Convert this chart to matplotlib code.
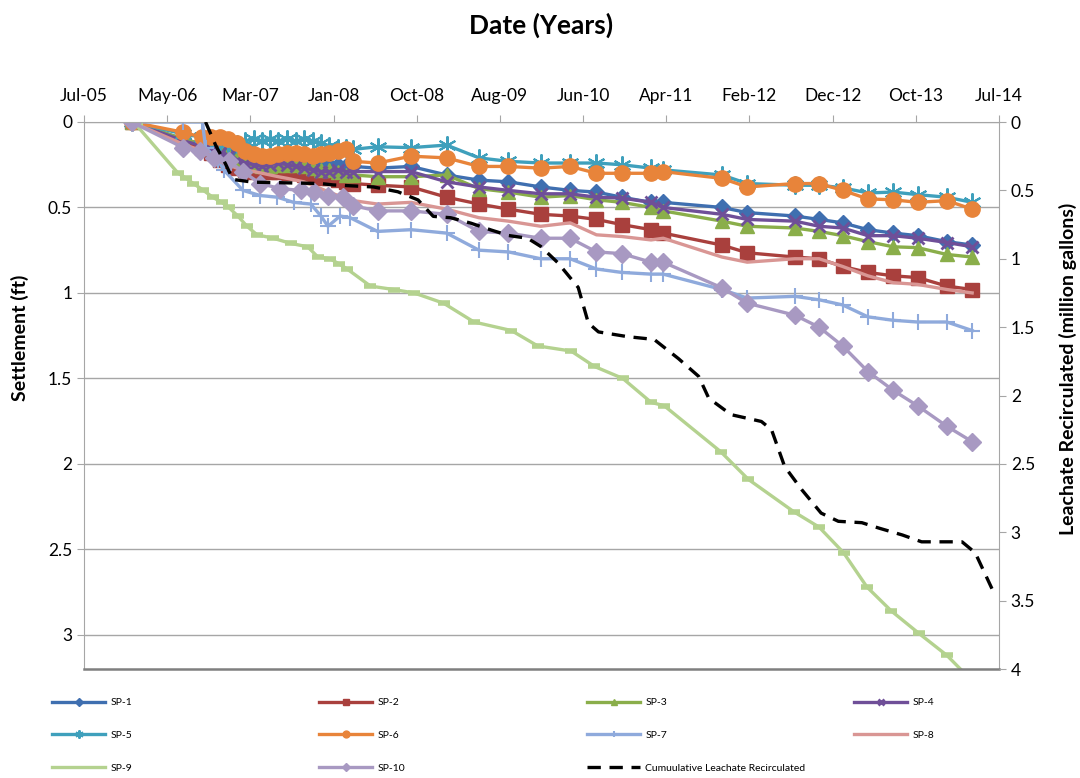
import matplotlib
matplotlib.use("Agg")
import matplotlib.pyplot as plt
from matplotlib.lines import Line2D
import numpy as np
import pandas as pd

plt.rcParams['font.family'] = ['Lato', 'DejaVu Sans']

# survey dates (decimal years) shared by most settlement plates
early_dates = [2006.01, 2006.52, 2006.71, 2006.79, 2006.88, 2006.96, 2007.05, 2007.13,
               2007.22, 2007.30, 2007.38, 2007.46, 2007.55, 2007.63, 2007.71, 2007.80,
               2007.88, 2007.96, 2008.05, 2008.13, 2008.20]
late_dates = [2008.44, 2008.77, 2009.12, 2009.44, 2009.73, 2010.05, 2010.34, 2010.60,
              2010.85, 2011.14, 2011.26, 2011.84, 2012.09, 2012.56, 2012.80, 2013.03,
              2013.28, 2013.53, 2013.77, 2014.06, 2014.31]

# settlement (ft)
sp1 = [0, 0.10, 0.13, 0.15, 0.17, 0.18, 0.20, 0.22, 0.23, 0.24, 0.24, 0.25, 0.25, 0.25,
       0.25, 0.26, 0.26, 0.25, 0.25, 0.26, 0.26,
       0.27, 0.26, 0.31, 0.34, 0.35, 0.38, 0.40, 0.41, 0.44, 0.47, 0.47, 0.50, 0.53, 0.55,
       0.57, 0.59, 0.63, 0.65, 0.665, 0.70, 0.72]
sp2 = [0, 0.12, 0.15, 0.18, 0.22, 0.25, 0.27, 0.28, 0.29, 0.29, 0.29, 0.29, 0.30, 0.30,
       0.31, 0.32, 0.33, 0.33, 0.34, 0.35, 0.36,
       0.37, 0.38, 0.44, 0.48, 0.51, 0.54, 0.55, 0.57, 0.60, 0.63, 0.65, 0.72, 0.765, 0.79,
       0.80, 0.845, 0.88, 0.90, 0.91, 0.96, 0.98]
sp3 = [0, 0.10, 0.13, 0.15, 0.17, 0.19, 0.21, 0.23, 0.25, 0.26, 0.26, 0.25, 0.25, 0.25,
       0.26, 0.27, 0.28, 0.28, 0.29, 0.31, 0.31,
       0.32, 0.32, 0.31, 0.39, 0.41, 0.44, 0.43, 0.455, 0.47, 0.50, 0.52, 0.58, 0.61, 0.62,
       0.64, 0.665, 0.70, 0.73, 0.735, 0.775, 0.79]
sp4 = [0, 0.11, 0.14, 0.16, 0.18, 0.20, 0.22, 0.24, 0.25, 0.26, 0.25, 0.24, 0.25, 0.26,
       0.27, 0.28, 0.29, 0.29, 0.28, 0.29, 0.29,
       0.29, 0.29, 0.35, 0.38, 0.40, 0.42, 0.42, 0.44, 0.445, 0.47, 0.50, 0.54, 0.57, 0.58,
       0.61, 0.62, 0.665, 0.665, 0.68, 0.705, 0.73]
sp5 = [0, 0.07, 0.09, 0.10, 0.11, 0.12, 0.13, 0.11, 0.10, 0.11, 0.10, 0.11, 0.10, 0.11,
       0.10, 0.11, 0.12, 0.14, 0.15, 0.15, 0.16,
       0.145, 0.15, 0.135, 0.21, 0.23, 0.24, 0.24, 0.24, 0.25, 0.27, 0.28, 0.31, 0.36, 0.37,
       0.37, 0.385, 0.415, 0.41, 0.425, 0.44, 0.47]
sp6 = [0, 0.06, 0.09, 0.09, 0.09, 0.10, 0.12, 0.17, 0.19, 0.20, 0.20, 0.19, 0.18, 0.18,
       0.19, 0.20, 0.19, 0.18, 0.17, 0.16, 0.23,
       0.24, 0.20, 0.21, 0.26, 0.26, 0.27, 0.26, 0.30, 0.30, 0.30, 0.29, 0.33, 0.38, 0.36,
       0.36, 0.40, 0.45, 0.455, 0.47, 0.46, 0.51]
sp8 = [0, 0.13, 0.17, 0.20, 0.23, 0.25, 0.27, 0.28, 0.29, 0.30, 0.31, 0.32, 0.33, 0.34,
       0.35, 0.37, 0.39, 0.41, 0.43, 0.45, 0.46,
       0.48, 0.47, 0.51, 0.56, 0.58, 0.61, 0.59, 0.66, 0.67, 0.69, 0.68, 0.79, 0.82, 0.80,
       0.80, 0.845, 0.90, 0.94, 0.95, 0.98, 1.00]

sp7_dates = [2006.01, 2006.52, 2006.71, 2006.74, 2006.86, 2006.92, 2007.11, 2007.28,
             2007.45, 2007.61, 2007.78, 2007.88, 2007.95, 2008.07, 2008.17] + late_dates
sp7 = [0, 0, 0, 0.15, 0.22, 0.28, 0.40, 0.43, 0.44, 0.47, 0.48, 0.55, 0.61, 0.55, 0.56,
       0.64, 0.63, 0.65, 0.75, 0.76, 0.80, 0.80, 0.86, 0.88, 0.89, 0.89, 0.98, 1.03, 1.02,
       1.04, 1.07, 1.14, 1.16, 1.17, 1.17, 1.22]

sp9_dates = [2006.01, 2006.06, 2006.47, 2006.55, 2006.62, 2006.72, 2006.81, 2006.90,
             2006.97, 2007.06, 2007.15, 2007.25, 2007.41, 2007.58, 2007.75, 2007.85,
             2007.97, 2008.06, 2008.14, 2008.37, 2008.60, 2008.80, 2009.09, 2009.39,
             2009.76, 2010.02, 2010.35, 2010.58, 2010.86, 2011.14, 2011.27, 2011.83,
             2012.10, 2012.55, 2012.80, 2013.04, 2013.27, 2013.51, 2013.78, 2014.06, 2014.31]
sp9 = [0, 0.02, 0.30, 0.33, 0.36, 0.40, 0.44, 0.47, 0.50, 0.55, 0.61, 0.66, 0.68, 0.71,
       0.73, 0.79, 0.80, 0.83, 0.86, 0.96, 0.98, 1.00, 1.06, 1.17, 1.22, 1.31, 1.34, 1.43,
       1.50, 1.64, 1.66, 1.93, 2.09, 2.28, 2.37, 2.52, 2.72, 2.86, 2.99, 3.12, 3.27]

sp10_dates = [2006.01, 2006.52, 2006.69, 2006.82, 2006.97, 2007.11, 2007.28, 2007.48,
              2007.68, 2007.81, 2007.95, 2008.10, 2008.20] + late_dates
sp10 = [0, 0.15, 0.17, 0.21, 0.23, 0.29, 0.36, 0.39, 0.40, 0.41, 0.43, 0.44, 0.49,
        0.52, 0.52, 0.54, 0.64, 0.65, 0.68, 0.68, 0.76, 0.77, 0.82, 0.82, 0.97, 1.06, 1.13,
        1.20, 1.31, 1.46, 1.57, 1.66, 1.78, 1.87]

# cumulative leachate recirculated (million gallons)
leach_dates = [2006.74, 2006.84, 2006.94, 2007.01, 2007.21, 2007.88, 2008.00, 2008.40,
               2008.64, 2008.84, 2008.99, 2009.16, 2009.36, 2009.56, 2009.73, 2009.92,
               2010.05, 2010.22, 2010.42, 2010.52, 2010.62, 2010.91, 2011.17, 2011.41,
               2011.61, 2011.71, 2011.93, 2012.23, 2012.33, 2012.46, 2012.63, 2012.82,
               2012.99, 2013.22, 2013.39, 2013.62, 2013.81, 2014.21, 2014.34, 2014.51]
leach = [0, 0.17, 0.31, 0.42, 0.44, 0.45, 0.46, 0.475, 0.51, 0.57, 0.69, 0.70, 0.74, 0.79,
         0.83, 0.85, 0.91, 1.03, 1.21, 1.47, 1.535, 1.57, 1.59, 1.73, 1.86, 2.02, 2.14,
         2.19, 2.25, 2.52, 2.69, 2.86, 2.92, 2.93, 2.97, 3.02, 3.07, 3.07, 3.15, 3.42]


def to_dates(years):
    out = []
    for y in years:
        yr = int(y)
        out.append(pd.Timestamp(yr, 1, 1) + pd.Timedelta(days=(y - yr) * 365.25))
    return out


std_dates = early_dates + late_dates
series = [
    ('SP-1', std_dates, sp1, '#3F6FB0', 'D', 8, 1),
    ('SP-2', std_dates, sp2, '#A9403D', 's', 10, 1),
    ('SP-3', std_dates, sp3, '#8AAE4A', '^', 10, 1),
    ('SP-4', std_dates, sp4, '#6F4F98', 'x', 9, 2),
    ('SP-5', std_dates, sp5, '#3FA0BC', (6, 2, 0), 13, 1.5),
    ('SP-6', std_dates, sp6, '#E8843A', 'o', 11, 1),
    ('SP-7', sp7_dates, sp7, '#8FAADC', '+', 11, 1.5),
    ('SP-8', std_dates, sp8, '#D99694', 'None', 0, 1),
    ('SP-9', sp9_dates, sp9, '#B4D28F', '_', 8, 4),
    ('SP-10', sp10_dates, sp10, '#A899C2', 'D', 9, 1),
]

fig = plt.figure(figsize=(10.8, 7.78), dpi=100)
ax = fig.add_axes([84 / 1080, 1 - 669 / 778, (999 - 84) / 1080, (669 - 122) / 778])

handles = []
for name, d, v, c, m, ms, mew in series:
    ln, = ax.plot(to_dates(d), v, color=c, lw=2.4, marker=m, markersize=ms,
                  markeredgewidth=mew, markeredgecolor=c, label=name)
    if name == 'SP-9':
        # the legend shows this series as a plain line
        ln = Line2D([], [], color=c, lw=2.4, label=name)
    handles.append(ln)

ax.set_ylim(3.2, 0)
ax.set_yticks(np.arange(0, 3.01, 0.5))
ax.set_yticklabels(['0', '0.5', '1', '1.5', '2', '2.5', '3'])
ax.yaxis.grid(True, color='#A6A6A6', lw=1.0)
ax.set_axisbelow(True)

start = pd.Timestamp('2005-07-17')
ticks = [start + pd.Timedelta(days=300 * k) for k in range(12)]
ax.set_xlim(ticks[0], ticks[-1])
ax.set_xticks(ticks)
ax.set_xticklabels([t.strftime('%b-%y') for t in ticks])
ax.xaxis.tick_top()
ax.tick_params(axis='x', top=True, bottom=False, direction='out', length=5,
               color='#A6A6A6', labelsize=12.5, pad=8)
ax.tick_params(axis='y', direction='out', length=5, color='#A6A6A6', labelsize=12.5)

for s in ['top', 'left', 'right']:
    ax.spines[s].set_color('#A6A6A6')
ax.spines['bottom'].set_color('#7F7F7F')
ax.spines['bottom'].set_linewidth(1.8)

ax2 = ax.twinx()
dash, = ax2.plot(to_dates(leach_dates), leach, color='black', lw=2.4,
                 dashes=[4, 2.6], label='Cumuulative Leachate Recirculated')
ax2.set_ylim(4, 0)
ax2.set_yticks(np.arange(0, 4.01, 0.5))
ax2.set_yticklabels(['0', '0.5', '1', '1.5', '2', '2.5', '3', '3.5', '4'])
ax2.tick_params(axis='y', direction='out', length=5, color='#A6A6A6', labelsize=12.5)
for s in ax2.spines.values():
    s.set_visible(False)

fig.text(541 / 1080, 1 - 25 / 778, 'Date (Years)', ha='center', va='center',
         fontsize=19, fontweight='bold')
fig.text(20 / 1080, 1 - 338 / 778, 'Settlement (ft)', ha='center', va='center',
         rotation=90, fontsize=14, fontweight='bold')
fig.text(1068 / 1080, 1 - 369 / 778, 'Leachate Recirculated (million gallons)',
         ha='center', va='center', rotation=90, fontsize=14, fontweight='bold')

# legend, laid out row by row in four columns
all_handles = handles + [dash]
columns = [[0, 4, 8], [1, 5, 9], [2, 6, 10], [3, 7]]
col_x = [52, 319, 587, 854]
for idx, x in zip(columns, col_x):
    fig.legend(handles=[all_handles[i] for i in idx], loc='upper left',
               bbox_to_anchor=(x / 1080, 1 - 698 / 778), frameon=False,
               borderpad=0, borderaxespad=0, handlelength=5.1, handletextpad=0.5,
               labelspacing=2.25, fontsize=7.5, markerscale=0.45)

fig.savefig('out.png', dpi=100)
